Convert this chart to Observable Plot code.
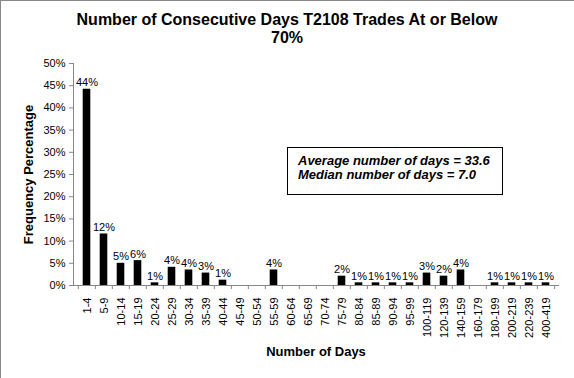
<!DOCTYPE html>
<html>
<head>
<meta charset="utf-8">
<script src="https://cdn.jsdelivr.net/npm/d3@7"></script>
<script src="https://cdn.jsdelivr.net/npm/@observablehq/plot@0.6"></script>
<style>
  html, body { margin: 0; padding: 0; background: #fff; }
  #wrap { position: relative; width: 574px; height: 378px; overflow: hidden; font-family: Arial, "Liberation Sans", sans-serif; }
  #frame { position: absolute; left: 0; top: 0; width: 574px; height: 378px; border-top: 1px solid #888; border-left: 1px solid #888; box-sizing: border-box; pointer-events: none; }
  #chart { position: absolute; left: 0; top: 0; }
  #title { position: absolute; left: 0; top: 11px; width: 574px; text-align: center; font-weight: bold; font-size: 16px; line-height: 18px; color: #000; }
  #note { position: absolute; left: 287px; top: 147px; width: 216px; height: 48px; border: 1px solid #000; box-sizing: border-box; padding: 6px 0 0 10px; font-weight: bold; font-style: italic; font-size: 13px; line-height: 14px; color: #000; background: #fff; }
</style>
</head>
<body>
<div id="wrap">
  <div id="chart"></div>
  <div id="title">Number of Consecutive Days T2108 Trades At or Below<br>70%</div>
  <div id="note">Average number of days = 33.6<br>Median number of days = 7.0</div>
  <div id="frame"></div>
</div>
<script>
const categories = ["1-4","5-9","10-14","15-19","20-24","25-29","30-34","35-39","40-44","45-49","50-54","55-59","60-64","65-69","70-74","75-79","80-84","85-89","90-94","95-99","100-119","120-139","140-159","160-179","180-199","200-219","220-239","400-419"];
const values = [44.2, 11.6, 5.0, 5.6, 0.6, 4.1, 3.5, 2.8, 1.2, 0, 0, 3.5, 0, 0, 0, 2.1, 0.6, 0.6, 0.6, 0.6, 2.8, 2.1, 3.5, 0, 0.6, 0.6, 0.6, 0.6];
const yTicks = [0, 5, 10, 15, 20, 25, 30, 35, 40, 45, 50];
const xTitle = "Number of Days";
const yTitle = "Frequency Percentage";

const W = 574, H = 378, mL = 73, mR = 16, mT = 63, mB = 93;
const step = (W - mL - mR) / categories.length;
const data = categories.map((c, i) => ({cat: c, v: values[i]}));
const font = 'Arial, "Liberation Sans", sans-serif';

const chart = Plot.plot({
  width: W, height: H,
  marginTop: mT, marginBottom: mB, marginLeft: mL, marginRight: mR,
  style: {fontFamily: font, fontSize: "11px", color: "#000", background: "transparent", overflow: "visible"},
  x: {type: "band", domain: categories, padding: 0},
  y: {domain: [0, 50]},
  marks: [
    Plot.barY(data, {x: "cat", y: "v", fill: "#000", insetLeft: 4.7, insetRight: 4.7}),
    Plot.text(data.filter(d => d.v > 0), {x: "cat", y: "v", text: d => Math.round(d.v) + "%", lineAnchor: "bottom", dy: -3, fontSize: 11, fill: "#000"}),
    Plot.frame({anchor: "left", stroke: "#868686"}),
    Plot.frame({anchor: "bottom", stroke: "#868686"}),
    Plot.axisY(yTicks, {tickFormat: d => d + "%", tickSize: 4, tickPadding: 4, stroke: "#868686", fill: "#000", label: null, fontSize: 11}),
    Plot.axisX(categories, {tickSize: 4, dx: -step / 2, tickFormat: () => "", stroke: "#868686", label: null}),
    Plot.axisX([categories[categories.length - 1]], {tickSize: 4, dx: step / 2, tickFormat: () => "", stroke: "#868686", label: null}),
    Plot.axisX(categories, {tickSize: 0, tickPadding: 12, tickRotate: -90, label: null, fill: "#000", fontSize: 11}),
    Plot.text([xTitle], {frameAnchor: "bottom", dy: 70, fontWeight: "bold", fontSize: 13, textAnchor: "middle", fill: "#000"}),
    Plot.text([yTitle], {frameAnchor: "left", dx: -45, rotate: -90, fontWeight: "bold", fontSize: 13, textAnchor: "middle", fill: "#000"})
  ]
});
document.getElementById("chart").appendChild(chart);
</script>
</body>
</html>
